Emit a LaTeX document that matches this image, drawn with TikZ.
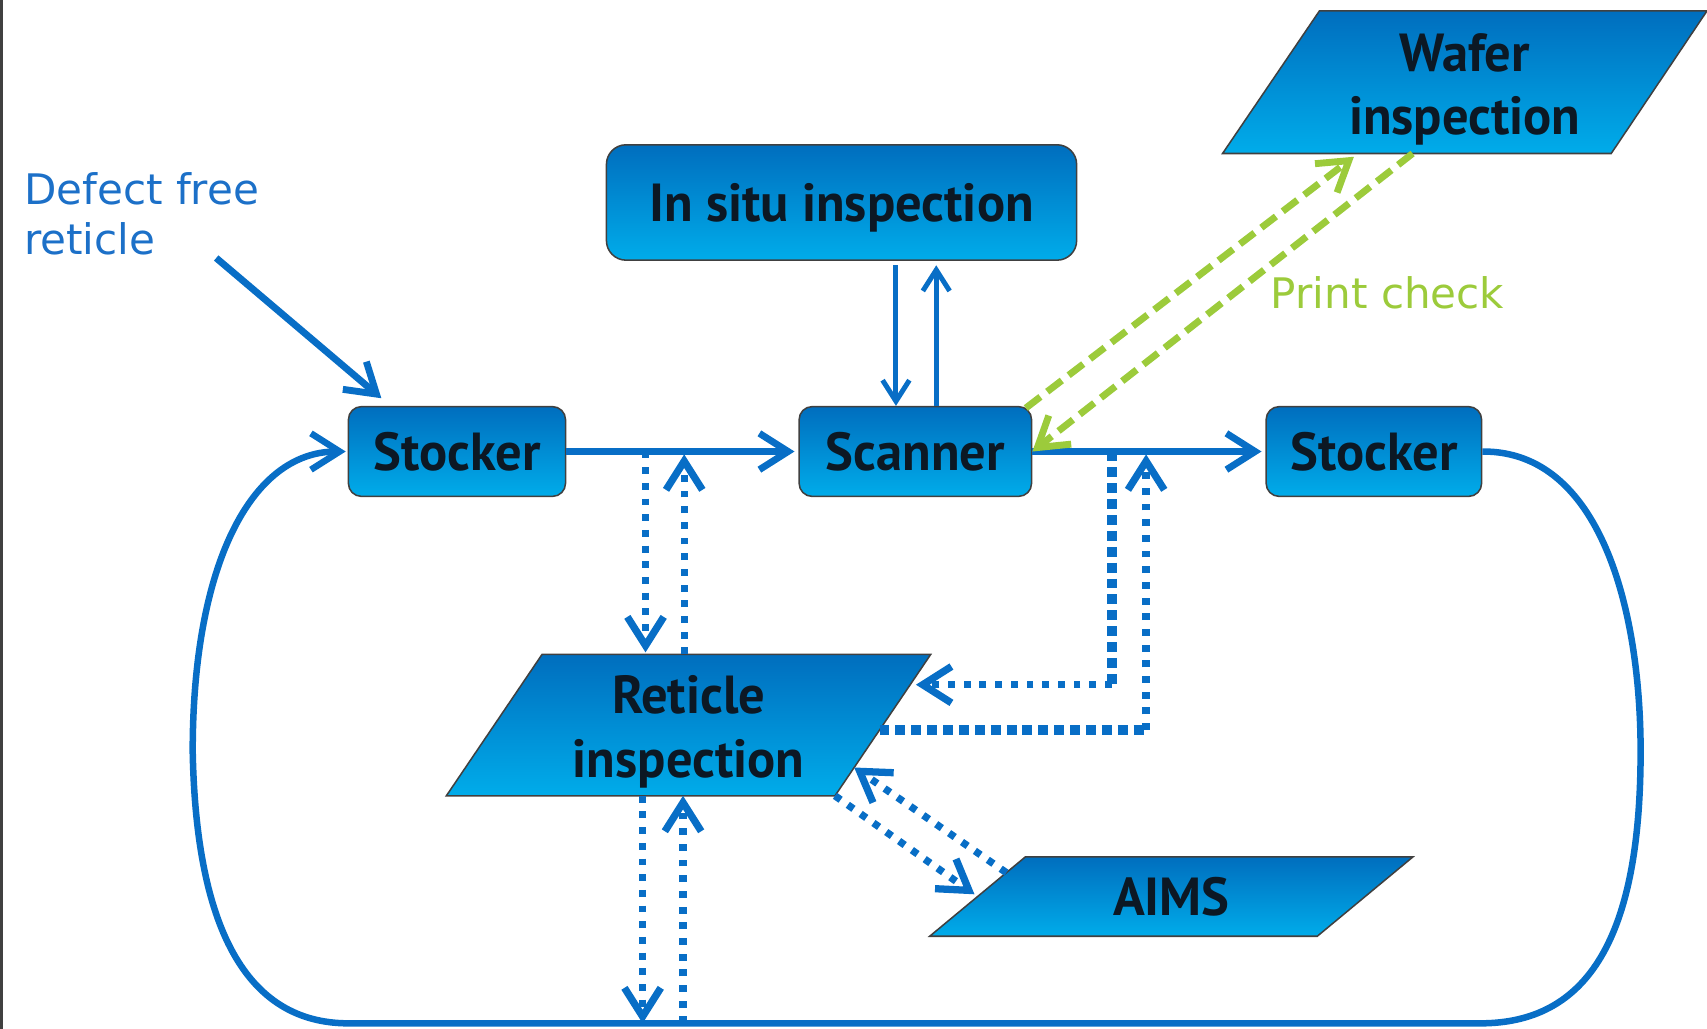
\documentclass[tikz,border=0pt]{standalone}
\usepackage{fontspec}
\setmainfont{DejaVu Sans}
\newfontfamily\boxfont{PT Sans}[FakeStretch=0.98]
\usetikzlibrary{arrows.meta,calc}

\definecolor{flow}{RGB}{8,110,198}
\definecolor{boxtop}{RGB}{0,110,190}
\definecolor{boxbot}{RGB}{0,172,234}
\definecolor{ink}{RGB}{12,24,36}
\definecolor{check}{RGB}{156,203,59}
\definecolor{note}{RGB}{28,112,200}

\newcommand{\boxtext}{\boxfont\bfseries\fontsize{28}{33}\selectfont}
\newcommand{\notetext}{\fontsize{22}{26.5}\selectfont}

\tikzset{
  card/.style={rectangle, rounded corners=0.24cm, draw=black!75, line width=0.8pt,
    top color=boxtop, bottom color=boxbot, text=ink, font=\boxtext,
    inner sep=0pt, minimum height=1.65cm, text depth=0pt},
  plate/.style={draw=black!75, line width=0.8pt, top color=boxtop, bottom color=boxbot},
  platetext/.style={text=ink, font=\boxtext, inner sep=0pt, align=center},
  flowline/.style={draw=flow, line width=3.6pt},
  headed/.style={-{Straight Barb[length=15pt,width=19pt]}},
  smallhead/.style={-{Straight Barb[length=11pt,width=14pt]}},
  dotline/.style={draw=flow, line width=3.8pt, dash pattern=on 3.6pt off 4.6pt},
  dotthick/.style={draw=flow, line width=5.4pt, dash pattern=on 5.2pt off 3.1pt},
  greendash/.style={draw=check, line width=3.6pt, dash pattern=on 9.6pt off 4.5pt},
}

\begin{document}
\begin{tikzpicture}[x=0.02cm, y=-0.02cm]
\useasboundingbox (0,0) rectangle (1568,945);

% frame edge on the left
\draw[black!75, line width=1.4pt] (1.2,0) -- (1.2,945);

% process boxes
\node[card, minimum width=3.99cm] (s1) at (419.75,414.75) {Stocker};
\node[card, minimum width=4.272cm] (scan) at (840.8,414.75) {Scanner};
\node[card, minimum width=3.96cm] (s2) at (1262,414.75) {Stocker};
\node[card, rounded corners=0.36cm, minimum width=8.64cm, minimum height=2.12cm]
  (insitu) at (773,186) {In situ inspection};

% wafer inspection station
\coordinate (waf-tl) at (1212,10);  \coordinate (waf-tr) at (1568,10);
\coordinate (waf-br) at (1480,141); \coordinate (waf-bl) at (1123,141);
\path[plate] (waf-tl) -- (waf-tr) -- (waf-br) -- (waf-bl) -- cycle;
\node[platetext] (wafer) at (1345.5,75.5) {\rule{0pt}{27pt}Wafer\\inspection};

% reticle inspection station
\coordinate (ret-tl) at (498,601); \coordinate (ret-tr) at (855,601);
\coordinate (ret-br) at (767,731); \coordinate (ret-bl) at (410,731);
\path[plate] (ret-tl) -- (ret-tr) -- (ret-br) -- (ret-bl) -- cycle;
\node[platetext] (reti) at (632.5,666) {\rule{0pt}{27pt}Reticle\\inspection};

% AIMS station
\coordinate (aim-tl) at (942,787);  \coordinate (aim-tr) at (1298,787);
\coordinate (aim-br) at (1210,860); \coordinate (aim-bl) at (854,860);
\path[plate] (aim-tl) -- (aim-tr) -- (aim-br) -- (aim-bl) -- cycle;
\node[platetext, text depth=0pt] (aims) at (1076,823.5) {AIMS};

% annotations
\node[anchor=west, inner sep=0pt, align=left, text=note, font=\notetext]
  (defect) at (21.8,196.3) {Defect free\\reticle};
\node[anchor=base west, inner sep=0pt, text=check, font=\notetext]
  (print) at (1167,283) {Print check};

% incoming reticle
\coordinate (dfs) at (198.6,237);
\draw[flowline, headed] (dfs) -- ($(s1.north west)+(31,-7)$);

% main flow
\draw[flowline, headed, shorten >=2pt] (s1) -- (scan);
\draw[flowline, headed, shorten >=2pt] (scan) -- (s2);

% return loop back to the first stocker
\draw[flowline, line width=3.4pt, headed, shorten >=1pt]
  (s2.east) .. controls (1470,414) and (1507,560) .. (1507,690)
  .. controls (1507,850) and (1465,940) .. (1360,940) -- (320,940)
  .. controls (225,940) and (180,850) .. (177,690)
  .. controls (177,520) and (230,414.75) .. (s1.west);
\coordinate (floor) at (800,940);

% in situ inspection exchange
\coordinate (isd) at ($(insitu.south)+(50,4)$);
\coordinate (isu) at ($(insitu.south)+(87,4)$);
\draw[flowline, line width=2.6pt, smallhead] (isd) -- (isd |- scan.north);
\draw[flowline, line width=2.6pt, smallhead] (isu |- scan.north) -- (isu);

% print check with wafer inspection
\draw[greendash, headed]
  ($(scan.north east)+(-6,2)$) -- ($(waf-bl)!0.338!(waf-br)+(0,3)$);
\draw[greendash, headed]
  ($(waf-bl)!0.489!(waf-br)$) -- (scan.east);

% reticle inspection from the stocker-scanner path
\coordinate (d1) at ($(ret-tl)!0.266!(ret-tr)$);
\coordinate (u1) at ($(ret-tl)!0.3655!(ret-tr)$);
\draw[dotline, headed, shorten >=1pt] (d1 |- s1.east) -- (d1);
\draw[dotline, headed, shorten >=1.5pt] (u1) -- (u1 |- s1.east);

% reticle inspection from the scanner-stocker path
\coordinate (rA) at ($(ret-tr)!0.215!(ret-br)$);
\coordinate (rB) at ($(ret-tr)!0.535!(ret-br)$);
\coordinate (xA) at ($(scan.east)+(73,0)$);
\coordinate (xB) at ($(scan.east)+(104.5,0)$);
\draw[dotthick] (xA) -- (xA |- rA);
\draw[dotline, headed, shorten >=3pt] (xA |- rA) -- (rA);
\draw[dotthick] (rB) -- (xB |- rB);
\draw[dotline, headed, shorten >=1.5pt] (xB |- rB) -- (xB);

% reticle inspection and AIMS
\draw[dotline, headed, shorten >=2pt] (ret-br) -- ($(aim-tl)!0.5!(aim-bl)$);
\draw[dotline, headed]
  ($(aim-tl)!0.2!(aim-bl)$) -- ($(ret-tr)!0.8!(ret-br)$);

% reticle inspection and the return loop
\coordinate (d2) at ($(ret-bl)!0.505!(ret-br)$);
\coordinate (u2) at ($(ret-bl)!0.609!(ret-br)$);
\draw[dotline, headed] (d2) -- (d2 |- floor);
\draw[dotline, headed] (u2 |- floor) -- (u2);
\end{tikzpicture}
\end{document}
